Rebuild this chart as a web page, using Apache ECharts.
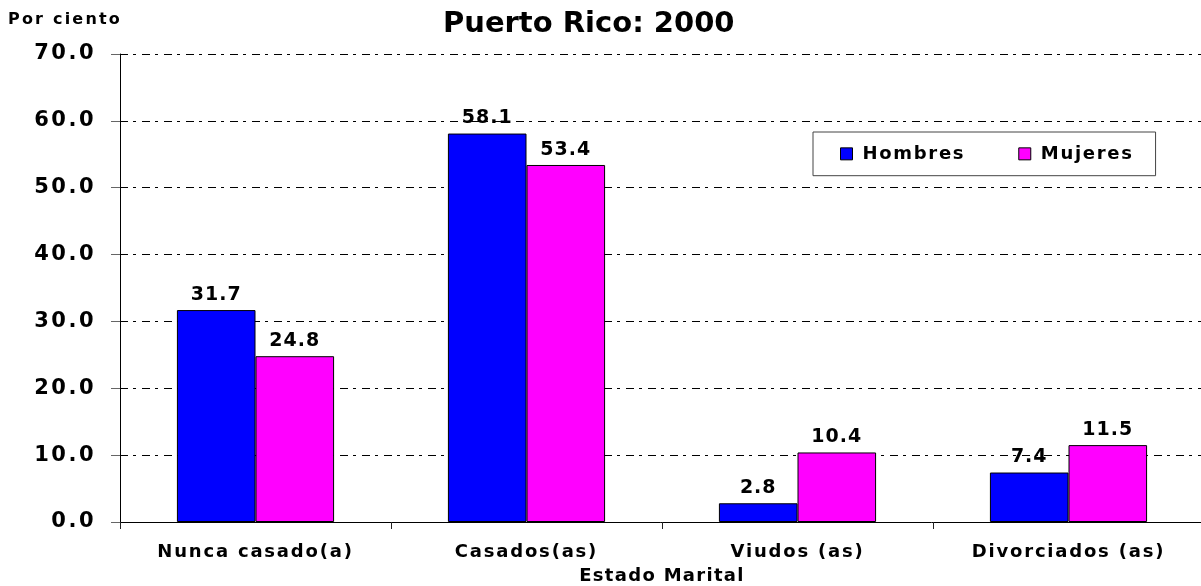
<!DOCTYPE html>
<html>
<head>
<meta charset="utf-8">
<script src="https://cdn.jsdelivr.net/npm/echarts@6/dist/echarts.min.js"></script>
<style>
html,body{margin:0;padding:0;background:#fff;}
#chart{width:1201px;height:586px;}
</style>
</head>
<body>
<div id="chart"></div>
<script>
// ---- data ----
const categories = ['Nunca casado(a)', 'Casados(as)', 'Viudos (as)', 'Divorciados (as)'];
const hombres = [31.7, 58.1, 2.8, 7.4];
const mujeres = [24.8, 53.4, 10.4, 11.5];
const seriesNames = ['Hombres', 'Mujeres'];
const titleText = 'Puerto Rico: 2000';
const yAxisTitle = 'Por ciento';
const xAxisTitle = 'Estado Marital';

// letter-spacing helper: a family tag like "ls2p5" in the font string => 2.5px spacing
(function(){
  const desc = Object.getOwnPropertyDescriptor(CanvasRenderingContext2D.prototype, 'font');
  if (!desc) return;
  Object.defineProperty(CanvasRenderingContext2D.prototype, 'font', {
    configurable: true,
    get(){ return desc.get.call(this); },
    set(v){
      desc.set.call(this, v);
      const m = /ls(\d+)(?:p(\d+))?/.exec(v);
      try { this.letterSpacing = m ? (m[1] + (m[2] ? '.' + m[2] : '') + 'px') : '0px'; } catch(e){}
    }
  });
})();
const fam = (tag) => "'DejaVu Sans', " + tag;

const chart = echarts.init(document.getElementById('chart'), null, {renderer: 'canvas'});
const labelStyle = {
  show: true, position: 'top', distance: 5,
  fontFamily: fam('ls1'), fontWeight: 'bold', fontSize: 19, color: '#000',
  formatter: (p) => p.value.toFixed(1)
};
chart.setOption({
  animation: false,
  backgroundColor: '#fff',
  title: {
    text: titleText, left: 443, top: 10, padding: 0,
    textStyle: {fontFamily: "'DejaVu Sans'", fontWeight: 'bold', fontSize: 29, color: '#000'}
  },
  graphic: [{
    type: 'text', left: 8, top: 11,
    style: {text: yAxisTitle, fontFamily: fam('ls2p2'), fontWeight: 'bold', fontSize: 16, fill: '#000'}
  }],
  legend: {
    data: seriesNames, left: 813, top: 132,
    padding: [12, 22, 12, 27], itemGap: 53,
    itemWidth: 12, itemHeight: 12, icon: 'rect',
    borderColor: '#444', borderWidth: 1, backgroundColor: '#fff',
    itemStyle: {borderColor: '#000', borderWidth: 1},
    textStyle: {fontFamily: fam('ls1p7'), fontWeight: 'bold', fontSize: 18, color: '#000', padding: [0,0,0,5]}
  },
  grid: {left: 120, top: 54, bottom: 64, width: 1084, containLabel: false, outerBoundsMode: 'none'},
  xAxis: {
    type: 'category', data: categories,
    axisLine: {lineStyle: {color: '#000', width: 1}},
    axisTick: {show: true, alignWithLabel: false, interval: 0, length: 7, lineStyle: {color: '#222'}},
    axisLabel: {interval: 0, margin: 20, fontFamily: fam('ls1p8'), fontWeight: 'bold', fontSize: 18, color: '#000'},
    name: xAxisTitle, nameLocation: 'middle', nameGap: 45,
    nameTextStyle: {fontFamily: fam('ls1p3'), fontWeight: 'bold', fontSize: 18, color: '#000'}
  },
  yAxis: {
    type: 'value', min: 0, max: 70, interval: 10,
    axisLine: {show: true, lineStyle: {color: '#000', width: 1}},
    axisTick: {show: true, length: 9, lineStyle: {color: '#666'}},
    axisLabel: {margin: 24, fontFamily: fam('ls2p5'), fontWeight: 'bold', fontSize: 21, color: '#000',
      formatter: (v) => v.toFixed(1)},
    splitLine: {show: true, lineStyle: {color: '#000', width: 1, type: [8, 5, 3, 6]}}
  },
  series: [
    {name: seriesNames[0], type: 'bar', data: hombres, barGap: '0%', barCategoryGap: '42%',
     itemStyle: {color: '#0000FF', borderColor: '#000', borderWidth: 1}, label: labelStyle},
    {name: seriesNames[1], type: 'bar', data: mujeres,
     itemStyle: {color: '#FF00FF', borderColor: '#000', borderWidth: 1}, label: labelStyle}
  ]
});
</script>
</body>
</html>
